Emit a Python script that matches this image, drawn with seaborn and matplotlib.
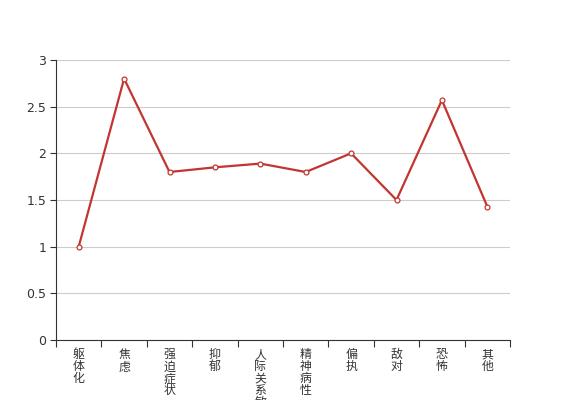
import matplotlib
matplotlib.use("Agg")
import matplotlib.pyplot as plt
import seaborn as sns
import pandas as pd
import numpy as np

# ── data ──────────────────────────────
categories = ["躯体化", "焦虑", "强迫症状", "抑郁", "人际关系敏感",
              "精神病性", "偏执", "敌对", "恐怖", "其他"]
scores = [1.0, 2.8, 1.8, 1.85, 1.89, 1.8, 2.0, 1.5, 2.57, 1.43]
y_ticks = [0, 0.5, 1, 1.5, 2, 2.5, 3]
y_tick_labels = ["0", "0.5", "1", "1.5", "2", "2.5", "3"]

LINE_COLOR = "#c23531"
TEXT_COLOR = "#333333"

sns.set_style("white")
plt.rcParams["font.family"] = ["Noto Sans CJK SC", "DejaVu Sans"]

df = pd.DataFrame({"pos": np.arange(len(categories)), "score": scores})

fig = plt.figure(figsize=(5.67, 4.0), dpi=100)
ax = fig.add_axes([56 / 567, 60 / 400, 454 / 567, 280 / 400])

sns.lineplot(data=df, x="pos", y="score", ax=ax, color=LINE_COLOR,
             linewidth=1.6, marker="o", markersize=3.5,
             markerfacecolor="white", markeredgecolor=LINE_COLOR,
             markeredgewidth=0.9, zorder=3)

ax.set_xlim(-0.5, len(categories) - 0.5)
ax.set_ylim(0, 3)

# y axis
ax.set_yticks(y_ticks)
ax.set_yticklabels(y_tick_labels, color=TEXT_COLOR, fontsize=9,
                   family=["DejaVu Sans"])
ax.yaxis.grid(True, color="#cccccc", linewidth=0.8)
ax.tick_params(axis="y", length=4, width=0.8, color=TEXT_COLOR, pad=3, left=True)

# x axis: boundary ticks (major), labels at centres (minor)
ax.set_xticks(np.arange(len(categories) + 1) - 0.5)
ax.set_xticklabels([])
ax.set_xticks(np.arange(len(categories)), minor=True)
ax.set_xticklabels(["\n".join(c) for c in categories], minor=True,
                   color=TEXT_COLOR, fontsize=8.6, linespacing=0.9, va="top")
ax.tick_params(axis="x", which="major", length=5, width=0.8,
               color=TEXT_COLOR, bottom=True)
ax.tick_params(axis="x", which="minor", length=0, pad=6)

ax.set_xlabel("")
ax.set_ylabel("")

for side in ["top", "right"]:
    ax.spines[side].set_visible(False)
for side in ["left", "bottom"]:
    ax.spines[side].set_color(TEXT_COLOR)
    ax.spines[side].set_linewidth(0.8)

plt.savefig("out.png", dpi=100)
